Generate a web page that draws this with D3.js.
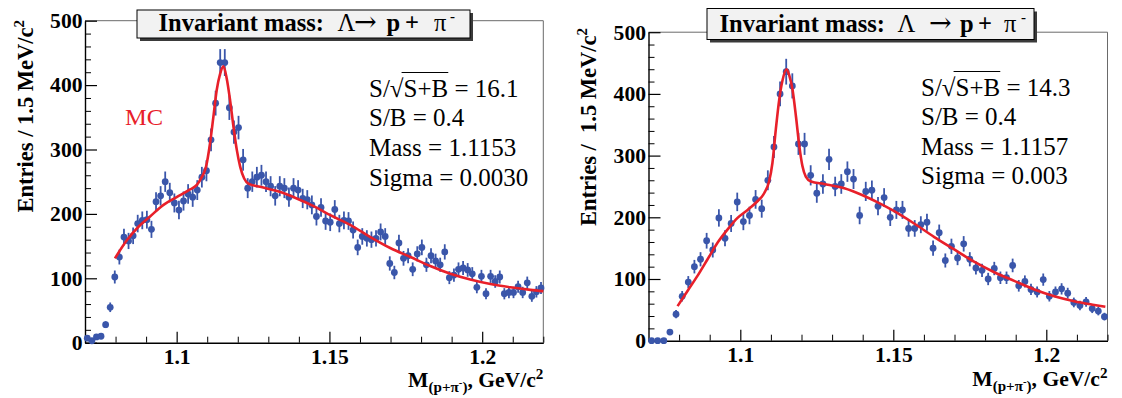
<!DOCTYPE html>
<html><head><meta charset="utf-8">
<script src="https://cdn.jsdelivr.net/npm/d3@7"></script>
<style>
body{margin:0;background:#fff}
text{font-family:"Liberation Serif","Times New Roman",serif;white-space:pre}
</style></head>
<body><svg id="c" width="1122" height="398"></svg>
<script>
// ---------------- DATA ----------------
const X_RANGE = [1.07, 1.22];
const Y_RANGE = [0, 500];
const Y_TICKS = [0, 100, 200, 300, 400, 500];
const Y_TICK_LABELS = ["0", "100", "200", "300", "400", "500"];
const X_TICKS = [1.1, 1.15, 1.2];
const X_TICK_LABELS = ["1.1", "1.15", "1.2"];

const LEFT_BIN_WIDTH = 0.0015;
const LEFT_COUNTS = [7,3,9,10,28,55,102,133,164,158,166,185,190,191,176,219,228,250,233,217,
  206,220,231,226,237,257,267,315,372,435,435,365,327,334,284,240,250,257,260,250,
  243,228,243,240,226,240,237,224,222,214,196,210,189,187,207,185,190,189,175,148,
  165,162,160,162,172,165,123,109,155,131,135,114,138,148,121,135,127,121,141,101,
  105,114,116,113,107,86,103,76,103,95,102,76,78,78,87,78,93,72,79,85];
const LEFT_FIT_X = [1.0798,1.0837,1.0875,1.0913,1.0957,1.1000,1.1044,1.1066,1.1082,1.1096,
  1.1109,1.1120,1.1131,1.1142,1.1153,1.1164,1.1175,1.1186,1.1197,1.1208,1.1221,1.1235,
  1.1273,1.1339,1.1393,1.1453,1.1503,1.1568,1.1634,1.1699,1.1765,1.1830,1.1896,1.1961,
  1.2027,1.2092,1.2158,1.2200];
const LEFT_FIT_Y = [131,159,180,196,214,226,238,245,257,273,309,350,392,417,429,410,376,335,
  299,273,255,247,242,234,224,211,198,183,164,147,133,119,107,98,91,86,82,80];
const LEFT_STATS = ["S/√S+B = 16.1", "S/B = 0.4", "Mass = 1.1153", "Sigma = 0.0030"];
const LEFT_TITLE = ["Invariant mass:", "Λ", "→", "p", "+", "π", "-"];
const LEFT_YLABEL = ["Entries / 1.5 MeV/c", "2"];
const LEFT_TAG = "MC";

const RIGHT_BIN_WIDTH = 0.002;
const RIGHT_COUNTS = [0,0,0,14,43,72,95,120,132,162,147,199,166,190,225,193,203,229,214,260,
  314,400,436,413,319,319,268,239,254,294,250,254,274,262,203,242,244,218,232,200,
  212,212,182,182,188,192,150,175,130,153,134,157,132,118,114,100,117,102,102,122,
  89,96,83,79,99,72,79,84,77,62,57,63,52,48,39];
const RIGHT_FIT_X = [1.0795,1.0828,1.0860,1.0893,1.0926,1.0958,1.0991,1.1024,1.1056,1.1078,
  1.1094,1.1105,1.1116,1.1127,1.1138,1.1151,1.1160,1.1171,1.1182,1.1193,1.1203,1.1214,
  1.1231,1.1274,1.1340,1.1394,1.1454,1.1503,1.1568,1.1634,1.1699,1.1764,1.1830,1.1895,
  1.1961,1.2026,1.2091,1.2157,1.2193];
const RIGHT_FIT_Y = [56,81,105,132,159,180,199,212,226,239,258,288,342,390,422,440,430,406,
  363,315,283,266,258,254,247,237,223,210,190,168,148,128,111,97,83,72,64,58,55];
const RIGHT_STATS = ["S/√S+B = 14.3", "S/B = 0.4", "Mass = 1.1157", "Sigma = 0.003"];
const RIGHT_TITLE = ["Invariant mass:", "Λ", "→", "p", "+", "π", "-"];
const RIGHT_YLABEL = ["Entries /  1.5 MeV/c", "2"];

// ---------------- DRAWING ----------------
const svg = d3.select("#c");
const BLUE = "#3a56aa", RED = "#e8202a";
const SX = 1.08; // horizontal stretch of tick/axis text in the original image
const SERIF = "Liberation Serif, Times New Roman, serif";

function stretched(parent, x, y, sx) {
  return parent.append("g").attr("transform", `translate(${x},${y}) scale(${sx},1)`);
}

function panel(p) {
  const x = d3.scaleLinear().domain(X_RANGE).range([p.x0, p.x1]);
  const y = d3.scaleLinear().domain(Y_RANGE).range([p.y0, p.y1]);
  const g = svg.append("g");

  // top/right frame
  g.append("path").attr("d", `M${p.x0},${p.y1}H${p.x1}V${p.y0}`)
    .attr("fill", "none").attr("stroke", "#6a6a6a").attr("stroke-width", 1);

  // minor ticks
  const yMinor = d3.range(Y_RANGE[0], Y_RANGE[1] + 1, 20).filter(v => v % 100 !== 0);
  const xMinor = d3.range(1.08, 1.2201, 0.01).filter(v => !X_TICKS.some(t => Math.abs(t - v) < 1e-6));
  g.append("g").attr("transform", `translate(${p.x0},0)`)
    .call(d3.axisLeft(y).tickValues(yMinor).tickSize(-6).tickFormat(""))
    .call(s => { s.select(".domain").remove(); s.selectAll("line").attr("stroke", "#000").attr("stroke-width", 1); });
  g.append("g").attr("transform", `translate(0,${p.y0})`)
    .call(d3.axisBottom(x).tickValues(xMinor).tickSize(-6).tickFormat(""))
    .call(s => { s.select(".domain").remove(); s.selectAll("line").attr("stroke", "#000").attr("stroke-width", 1); });

  // major axes
  const ya = g.append("g").attr("transform", `translate(${p.x0},0)`)
    .call(d3.axisLeft(y).tickValues(Y_TICKS).tickFormat((d, i) => Y_TICK_LABELS[i])
      .tickSize(-12).tickSizeOuter(0).tickPadding(2.5));
  ya.select(".domain").attr("stroke", "#000").attr("stroke-width", 1.4);
  ya.selectAll("line").attr("stroke", "#000").attr("stroke-width", 1.2);
  ya.selectAll("text").attr("font-size", 20).attr("font-weight", "bold")
    .attr("font-family", SERIF).attr("fill", "#000")
    .attr("x", -2.5 / SX).attr("dy", "0.34em").attr("transform", `scale(${SX},1)`);

  const xa = g.append("g").attr("transform", `translate(0,${p.y0})`)
    .call(d3.axisBottom(x).tickValues(X_TICKS).tickFormat((d, i) => X_TICK_LABELS[i])
      .tickSize(-11).tickSizeOuter(0).tickPadding(0));
  xa.select(".domain").attr("stroke", "#000").attr("stroke-width", 1.4);
  xa.selectAll("line").attr("stroke", "#000").attr("stroke-width", 1.2);
  xa.selectAll("text").attr("font-size", 20).attr("font-weight", "bold")
    .attr("font-family", SERIF).attr("fill", "#000")
    .attr("y", p.xLabelDy).attr("dy", 0).attr("transform", `scale(${SX},1)`);

  // data points with Poisson error bars
  const pts = p.counts.map((c, i) => ({ xv: X_RANGE[0] + (i + 0.5) * p.bin, c }));
  g.append("g").selectAll("line").data(pts.filter(d => d.c > 0)).join("line")
    .attr("x1", d => x(d.xv)).attr("x2", d => x(d.xv))
    .attr("y1", d => y(d.c - Math.sqrt(d.c))).attr("y2", d => y(d.c + Math.sqrt(d.c)))
    .attr("stroke", BLUE).attr("stroke-width", 1.8);
  g.append("g").selectAll("circle").data(pts).join("circle")
    .attr("cx", d => x(d.xv)).attr("cy", d => y(d.c)).attr("r", 3.4).attr("fill", BLUE);

  // fit curve
  const fit = p.fitX.map((v, i) => [v, p.fitY[i]]);
  g.append("path").datum(fit)
    .attr("d", d3.line().x(d => x(d[0])).y(d => y(d[1])).curve(d3.curveMonotoneX))
    .attr("fill", "none").attr("stroke", RED).attr("stroke-width", 2.6);

  // title box
  const b = p.box;
  g.append("rect").attr("x", b[0] + 3).attr("y", b[1] + 3).attr("width", b[2]).attr("height", b[3]).attr("fill", "#3a3a3a");
  g.append("rect").attr("x", b[0]).attr("y", b[1]).attr("width", b[2]).attr("height", b[3])
    .attr("fill", "#f2f2f2").attr("stroke", "#000").attr("stroke-width", 1);
  const tt = g.append("text").attr("y", p.titleY).attr("font-size", 24.5).attr("fill", "#000")
    .attr("font-family", SERIF);
  const tx = p.titleXs;
  tt.append("tspan").attr("x", tx[0]).attr("font-weight", "bold").text(p.title[0]);
  tt.append("tspan").attr("x", tx[1]).text(p.title[1]);
  tt.append("tspan").attr("x", tx[2]).attr("font-family", "DejaVu Serif").attr("font-size", 27).text(p.title[2]);
  tt.append("tspan").attr("x", tx[3]).attr("font-weight", "bold").text(p.title[3]);
  tt.append("tspan").attr("x", tx[4]).attr("font-weight", "bold").text(p.title[4]);
  tt.append("tspan").attr("x", tx[5]).text(p.title[5]);
  tt.append("tspan").attr("x", tx[6]).attr("font-size", 15).attr("font-weight", "bold").attr("dy", -10).text(p.title[6]);

  // y label (rotated)
  const yl = svg.append("g").attr("transform", `translate(${p.ylX},${p.ylY}) rotate(-90)`)
    .append("text").attr("text-anchor", "end").attr("font-size", 22.5).attr("font-weight", "bold")
    .attr("font-family", SERIF);
  yl.append("tspan").text(p.ylabel[0]);
  yl.append("tspan").attr("font-size", 15).attr("dy", -9).text(p.ylabel[1]);

  // x label
  const xl = stretched(g, p.x1, p.xtY, SX).append("text").attr("text-anchor", "end")
    .attr("font-size", 20).attr("font-weight", "bold").attr("font-family", SERIF);
  xl.append("tspan").text("M");
  xl.append("tspan").attr("font-size", 14).attr("dy", 5).text("(p+π");
  xl.append("tspan").attr("font-size", 10).attr("dy", -6).text("-");
  xl.append("tspan").attr("font-size", 14).attr("dy", 6).text(")");
  xl.append("tspan").attr("font-size", 20).attr("dy", -5).text(", GeV/c");
  xl.append("tspan").attr("font-size", 14).attr("dy", -8).text("2");

  // stats
  p.stats.forEach((s, i) => {
    const sg = g.append("g").attr("transform", `translate(${p.statX},${p.statY[i]})`);
    const t = sg.append("text").attr("font-size", 25).attr("fill", "#000")
      .attr("font-family", SERIF).text(s);
    if (s.indexOf("√") >= 0) {
      const node = t.node();
      const k = s.indexOf("√");
      const a = node.getSubStringLength(0, k + 1) - 2;
      const w = node.getSubStringLength(k + 1, 3) + 2;
      sg.append("line").attr("x1", a).attr("x2", a + w).attr("y1", -24).attr("y2", -24)
        .attr("stroke", "#000").attr("stroke-width", 1.2);
    }
  });

  if (p.tag) {
    stretched(g, p.tagX, p.tagY, 1.04).append("text").attr("font-size", 23.5).attr("fill", RED)
      .attr("font-family", SERIF).text(p.tag);
  }
}

panel({
  x0: 85, x1: 543.3, y0: 342.7, y1: 20.7, bin: LEFT_BIN_WIDTH, counts: LEFT_COUNTS,
  fitX: LEFT_FIT_X, fitY: LEFT_FIT_Y, stats: LEFT_STATS, statX: 369, statY: [96.5, 126, 156, 185.5],
  title: LEFT_TITLE, box: [137, 10, 333, 28], titleXs: [158.5, 337.5, 354, 386.5, 405, 434, 450], titleY: 31,
  ylabel: LEFT_YLABEL, ylX: 33, ylY: 20, xtY: 387, xLabelDy: 21.5,
  tag: LEFT_TAG, tagX: 125, tagY: 125
});
panel({
  x0: 648.5, x1: 1107.5, y0: 340.7, y1: 32.2, bin: RIGHT_BIN_WIDTH, counts: RIGHT_COUNTS,
  fitX: RIGHT_FIT_X, fitY: RIGHT_FIT_Y, stats: RIGHT_STATS, statX: 921, statY: [95.5, 125, 154.5, 183.5],
  title: RIGHT_TITLE, box: [707, 8.5, 327, 31], titleXs: [719.5, 897.5, 929, 960, 978, 1004, 1021], titleY: 31.5,
  ylabel: RIGHT_YLABEL, ylX: 596, ylY: 28, xtY: 386, xLabelDy: 21.5
});
</script></body></html>
